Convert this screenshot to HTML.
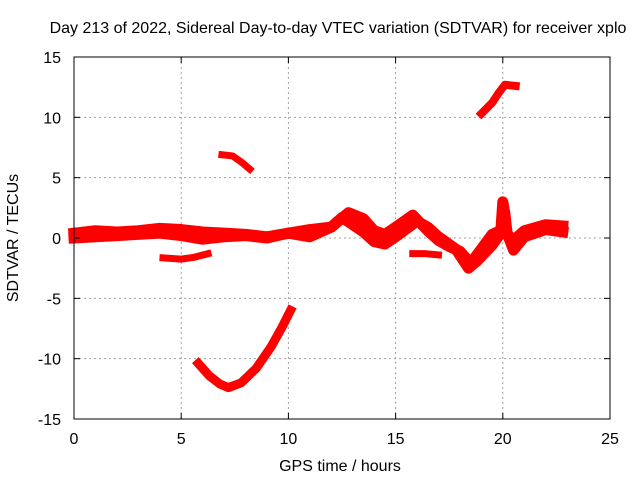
<!DOCTYPE html>
<html><head><meta charset="utf-8"><style>
body{margin:0;background:#fff}
svg{display:block;font-family:"Liberation Sans",sans-serif;font-size:16px}
</style></head><body>
<svg id="chart" width="640" height="480" viewBox="0 0 640 480">
<rect width="640" height="480" fill="#fff"/>
<text x="338" y="33" text-anchor="middle">Day 213 of 2022, Sidereal Day-to-day VTEC variation (SDTVAR) for receiver xplo</text>
<g id="grid"></g>
<g id="series"></g>
<g id="axes"></g>
<text x="340" y="471" text-anchor="middle">GPS time / hours</text>
<text transform="translate(18,238) rotate(-90)" text-anchor="middle">SDTVAR / TECUs</text>
</svg>
<script>
const xTicks=[0,5,10,15,20,25];
const yTicks=[15,10,5,0,-5,-10,-15];
const traceAT=[0,1,2,3,4,5,6,7,8,9,10,11,12,12.8,13.5,14,14.5,15,15.8,16.5,17,17.5,18,18.5,19,19.5,20,20.5,21,22,22.8];
const traceAV=[0.4,0.6,0.5,0.6,0.8,0.7,0.5,0.4,0.3,0.1,0.4,0.7,0.9,2.1,1.6,0.6,0.3,0.9,1.9,0.6,-0.2,-0.7,-1.1,-2.1,-0.9,0.3,0.7,-0.2,0.6,1.1,1.0];
const traceBT=[0,2,4,5,6,7,8,9,10,11,12,12.5,13,13.5,14,14.5,15,16,16.5,17,17.8,18.4,18.8,19.5,19.9,20,20.1,20.2,20.5,21,22,22.8];
const traceBV=[0.0,0.2,0.4,0.2,-0.1,0.1,0.2,0.0,0.4,0.1,0.9,1.7,1.1,0.5,-0.3,-0.5,0.1,1.4,0.9,0.1,-0.9,-2.5,-1.9,-0.6,0.4,3.0,2.0,0.4,-1.0,0.1,0.7,0.5];
const seg1T=[4.15,5,5.6,6.25];
const seg1V=[-1.65,-1.75,-1.6,-1.3];
const seg2T=[6.9,7.4,7.8,8.2];
const seg2V=[6.9,6.8,6.3,5.7];
const seg3T=[5.8,6.3,6.8,7.2,7.8,8.5,9.2,9.7,10.1];
const seg3V=[-10.4,-11.4,-12.1,-12.4,-12.0,-10.8,-9.0,-7.4,-6.0];
const seg4T=[19.0,19.5,19.8,20.1,20.6];
const seg4V=[10.3,11.2,12.0,12.7,12.6];
const seg5T=[15.8,16.4,17.0];
const seg5V=[-1.3,-1.3,-1.4];
const X0=74,X1=610,Y0=419,Y1=57;
const sx=t=>X0+(t-0)/(25-0)*(X1-X0);
const sy=v=>Y0-(v+15)/30*(Y0-Y1);
const NS='http://www.w3.org/2000/svg';
const mk=(tag,attrs,parent)=>{const e=document.createElementNS(NS,tag);for(const k in attrs)e.setAttribute(k,attrs[k]);parent.appendChild(e);return e;};
const grid=document.getElementById('grid'),axes=document.getElementById('axes'),ser=document.getElementById('series');
xTicks.forEach(t=>{
  if(t>0&&t<25){const g=mk('line',{x1:sx(t),x2:sx(t),y1:Y0,y2:Y1,stroke:'#a0a0a0','stroke-dasharray':'2,3'},grid);
  
  }
  const l=mk('text',{x:sx(t),y:444,'text-anchor':'middle'},axes);l.textContent=t;
  
  
  mk('line',{x1:sx(t),x2:sx(t),y1:Y0,y2:Y0-6,stroke:'#000'},axes);
  mk('line',{x1:sx(t),x2:sx(t),y1:Y1,y2:Y1+6,stroke:'#000'},axes);
});
yTicks.forEach(v=>{
  if(v>-15&&v<15){const g=mk('line',{x1:X0,x2:X1,y1:sy(v),y2:sy(v),stroke:'#a0a0a0','stroke-dasharray':'2,3'},grid);
  
  }
  const l=mk('text',{x:61,y:sy(v)+6,'text-anchor':'end'},axes);l.textContent=v;
  
  
  mk('line',{x1:X0,x2:X0+6,y1:sy(v),y2:sy(v),stroke:'#000'},axes);
  mk('line',{x1:X1,x2:X1-6,y1:sy(v),y2:sy(v),stroke:'#000'},axes);
});
const frame=mk('rect',{x:X0,y:Y1,width:X1-X0,height:Y0-Y1,fill:'none',stroke:'#000'},axes);


const draw=(T,V,name,w)=>{
  const p=mk('polyline',{points:T.map((t,i)=>sx(t)+','+sy(V[i])).join(' '),fill:'none',stroke:'#ff0000','stroke-width':w,'stroke-linejoin':'round','stroke-linecap':'square'},ser);
  
  
};
draw(traceAT,traceAV,'sdtvar-trace-a',11);
draw(traceBT,traceBV,'sdtvar-trace-b',11);
draw(seg1T,seg1V,'sdtvar-segment-1',7);
draw(seg2T,seg2V,'sdtvar-segment-2',7);
draw(seg3T,seg3V,'sdtvar-segment-3',9);
draw(seg4T,seg4V,'sdtvar-segment-4',8);
draw(seg5T,seg5V,'sdtvar-segment-5',7);
</script>
</body></html>
